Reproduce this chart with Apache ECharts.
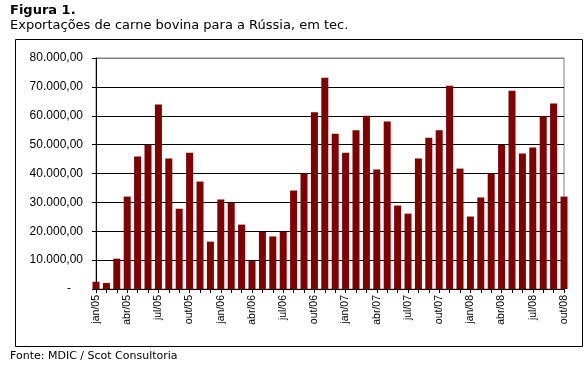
<!DOCTYPE html>
<html>
<head>
<meta charset="utf-8">
<script src="https://cdn.jsdelivr.net/npm/echarts@6/dist/echarts.min.js"></script>
<style>
html,body{margin:0;padding:0;background:#fff;}
#chart{width:587px;height:368px;}
</style>
</head>
<body>
<div id="chart"></div>
<script>
var months = [
  'jan/05','fev/05','mar/05','abr/05','mai/05','jun/05','jul/05','ago/05','set/05','out/05','nov/05','dez/05',
  'jan/06','fev/06','mar/06','abr/06','mai/06','jun/06','jul/06','ago/06','set/06','out/06','nov/06','dez/06',
  'jan/07','fev/07','mar/07','abr/07','mai/07','jun/07','jul/07','ago/07','set/07','out/07','nov/07','dez/07',
  'jan/08','fev/08','mar/08','abr/08','mai/08','jun/08','jul/08','ago/08','set/08','out/08'
];
var exportsTec = [
  2500, 2100, 10500, 32000, 45900, 49900, 63900, 45200, 27800, 47200, 37200, 16400,
  31000, 29900, 22300, 9700, 19800, 18200, 19800, 34100, 40000, 61200, 73200, 53800,
  47200, 55000, 60000, 41400, 58000, 28900, 26100, 45200, 52400, 55000, 70400, 41700,
  25100, 31700, 40000, 49900, 68700, 46900, 49000, 59800, 64200, 32000
];
var yTicks = [0, 10000, 20000, 30000, 40000, 50000, 60000, 70000, 80000];

function fmt(v) {
  if (v === 0) return '{z|-}';
  var s = String(Math.round(v));
  s = s.replace(/\B(?=(\d{3})+(?!\d))/g, '.');
  return s + ',00';
}

var chart = echarts.init(document.getElementById('chart'), null, {renderer: 'canvas'});
chart.setOption({
  animation: false,
  backgroundColor: '#ffffff',
  grid: {
    left: 96, width: 468, top: 58, height: 231,
    show: true, borderColor: '#808080', borderWidth: 1, backgroundColor: 'transparent'
  },
  graphic: [
    {type: 'rect', shape: {x: 15.5, y: 39.5, width: 567, height: 307},
     style: {fill: 'none', stroke: '#000', lineWidth: 1}, z: -1},
    {type: 'text', left: 10, top: 4,
     style: {text: 'Figura 1.', font: 'bold 13px "DejaVu Sans"', fill: '#000'}},
    {type: 'text', left: 10, top: 19,
     style: {text: 'Exportações de carne bovina para a Rússia, em tec.', font: '13px "DejaVu Sans"', fill: '#000'}},
    {type: 'text', left: 10, top: 351,
     style: {text: 'Fonte: MDIC / Scot Consultoria', font: '11px "DejaVu Sans"', fill: '#000'}}
  ],
  xAxis: {
    type: 'category',
    data: months,
    boundaryGap: false,
    axisLine: {lineStyle: {color: '#000', width: 1}},
    axisTick: {show: true, interval: 0, length: 4, lineStyle: {color: '#000'}},
    axisLabel: {
      interval: 2, rotate: 90, margin: 6,
      fontFamily: '"Liberation Sans", Arial', fontSize: 10.5, color: '#000'
    },
    splitLine: {show: false}
  },
  yAxis: {
    type: 'value',
    min: 0, max: 80000, interval: 10000,
    axisLine: {show: true, lineStyle: {color: '#000', width: 1}},
    axisTick: {show: true, length: 4, lineStyle: {color: '#000'}},
    axisLabel: {
      margin: 13, formatter: fmt,
      fontFamily: '"Liberation Sans", Arial', fontSize: 12, color: '#000',
      rich: {z: {padding: [0, 12, 0, 0], fontFamily: '"Liberation Sans", Arial', fontSize: 12, color: '#000'}}
    },
    splitLine: {show: true, lineStyle: {color: ['#000','#000','#000','#000','#000','#000','#000','#000','#808080'], width: 1}}
  },
  series: [{
    type: 'bar',
    data: exportsTec,
    barWidth: 7,
    itemStyle: {color: '#800000'},
    clip: true
  }]
});
</script>
</body>
</html>
